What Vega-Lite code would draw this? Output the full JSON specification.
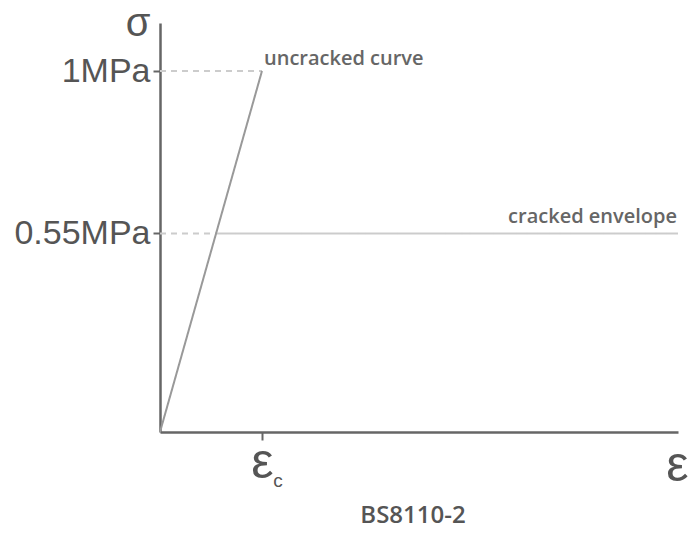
{
  "$schema": "https://vega.github.io/schema/vega-lite/v6.json",
  "width": 518,
  "height": 409,
  "autosize": {"type": "none"},
  "padding": {"left": 160, "top": 23, "right": 14, "bottom": 102},
  "config": {"view": {"stroke": null}, "font": "Liberation Sans"},
  "title": {"text": "BS8110-2", "orient": "bottom", "anchor": "middle", "font": "Open Sans", "fontSize": 24, "fontWeight": 600, "color": "#555", "offset": 13, "dx": -6},
  "layer": [
    {
      "data": {"values": [
        {"seg": "guide", "x": 0, "y": 1, "x2": 1, "y2": 1},
        {"seg": "guide", "x": 0, "y": 0.55, "x2": 0.55, "y2": 0.55},
        {"seg": "cracked", "x": 0.55, "y": 0.55, "x2": 5.08, "y2": 0.55},
        {"seg": "uncracked", "x": 0, "y": 0, "x2": 1, "y2": 1}
      ]},
      "mark": {"type": "rule", "strokeWidth": 2},
      "encoding": {
        "x": {"field": "x", "type": "quantitative",
          "scale": {"domain": [0, 5.08], "nice": false, "zero": false},
          "axis": {"values": [1], "labelExpr": "'ε'", "labelFontSize": 50, "labelColor": "#555", "labelBaseline": "alphabetic", "labelPadding": 37, "tickSize": 8, "tickWidth": 2, "tickColor": "#666", "domainColor": "#666", "domainWidth": 2.5, "grid": false,
            "title": "ε", "titleFontSize": 50, "titleFontWeight": "normal", "titleColor": "#555", "titleX": 528, "titleY": 48, "titleAlign": "right", "titleBaseline": "alphabetic"}},
        "x2": {"field": "x2"},
        "y": {"field": "y", "type": "quantitative",
          "scale": {"domain": [0, 1.133], "nice": false, "zero": false},
          "axis": {"values": [0.55, 1], "labelExpr": "datum.value == 1 ? '1MPa' : '0.55MPa'", "labelFontSize": 34, "labelColor": "#555", "labelPadding": 3, "tickSize": 7, "tickWidth": 2, "tickColor": "#666", "domainColor": "#666", "domainWidth": 2.5, "grid": false,
            "title": "σ", "titleAngle": 0, "titleFontSize": 40, "titleFontWeight": "normal", "titleColor": "#555", "titleX": -10, "titleY": 12, "titleAlign": "right", "titleBaseline": "alphabetic"}},
        "y2": {"field": "y2"},
        "color": {"field": "seg", "type": "nominal", "legend": null,
          "scale": {"domain": ["uncracked", "cracked", "guide"], "range": ["#999999", "#cccccc", "#cccccc"]}},
        "strokeDash": {"field": "seg", "type": "nominal", "legend": null,
          "scale": {"domain": ["uncracked", "cracked", "guide"], "range": [[1, 0], [1, 0], [6, 5]]}}
      }
    },
    {
      "data": {"values": [{"x": 1, "y": 1, "label": "uncracked curve"}]},
      "mark": {"type": "text", "align": "left", "baseline": "alphabetic", "dx": 2, "dy": -6, "font": "Open Sans", "fontSize": 20, "fontWeight": 600, "color": "#666"},
      "encoding": {"x": {"field": "x", "type": "quantitative"}, "y": {"field": "y", "type": "quantitative"}, "text": {"field": "label"}}
    },
    {
      "data": {"values": [{"x": 5.08, "y": 0.55, "label": "cracked envelope"}]},
      "mark": {"type": "text", "align": "right", "baseline": "alphabetic", "dx": -1, "dy": -10, "font": "Open Sans", "fontSize": 20, "fontWeight": 600, "color": "#666"},
      "encoding": {"x": {"field": "x", "type": "quantitative"}, "y": {"field": "y", "type": "quantitative"}, "text": {"field": "label"}}
    },
    {
      "data": {"values": [{"x": 1, "y": 0, "label": "c"}]},
      "mark": {"type": "text", "align": "center", "baseline": "alphabetic", "dx": 16, "dy": 55, "fontSize": 19, "color": "#555", "clip": false},
      "encoding": {"x": {"field": "x", "type": "quantitative"}, "y": {"field": "y", "type": "quantitative"}, "text": {"field": "label"}}
    }
  ]
}
